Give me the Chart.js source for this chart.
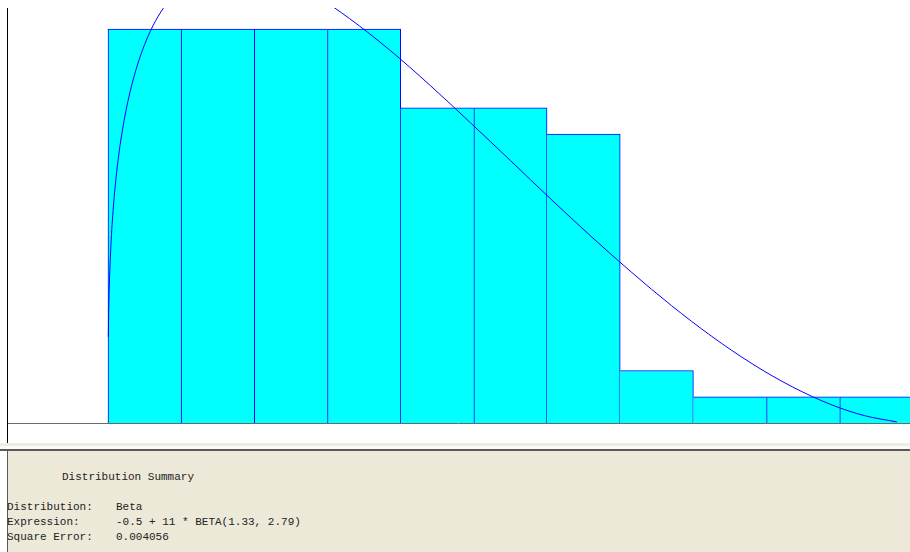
<!DOCTYPE html>
<html>
<head>
<meta charset="utf-8">
<title>Distribution Summary</title>
<script src="https://cdn.jsdelivr.net/npm/chart.js@4.4.1/dist/chart.umd.min.js"></script>
<style>
  html, body { margin: 0; padding: 0; background: #ffffff; }
  #page { position: relative; width: 910px; height: 552px; overflow: hidden; background: #ffffff; }
  #plot { position: absolute; left: 0; top: 0; width: 910px; height: 443px; }
  .strip { position: absolute; left: 0; width: 910px; }
  #panel { position: absolute; left: 7px; top: 451px; width: 903px; height: 101px;
           background: #ECE9D8; border-left: 1px solid #5a5a5a; box-sizing: border-box; }
  .txt { position: absolute; font-family: "Liberation Mono", "DejaVu Sans Mono", monospace;
         font-size: 11px; line-height: 15px; color: #222; white-space: pre; }
</style>
</head>
<body>
<div id="page">
  <div id="plot"><canvas id="c" width="910" height="443"></canvas></div>
  <div class="strip" style="top:443px;height:3px;background:#EFEDE2"></div>
  <div class="strip" style="top:446px;height:3px;background:#FBFBF8"></div>
  <div class="strip" style="top:449px;height:2px;background:#5a5a5a"></div>
  <div id="panel"></div>
  <div class="txt" style="left:62px;top:470px">Distribution Summary</div>
  <div class="txt" style="left:7px;top:500px">Distribution:</div>
  <div class="txt" style="left:116px;top:500px">Beta</div>
  <div class="txt" style="left:7px;top:515px">Expression:</div>
  <div class="txt" style="left:116px;top:515px">-0.5 + 11 * BETA(1.33, 2.79)</div>
  <div class="txt" style="left:7px;top:530px">Square Error:</div>
  <div class="txt" style="left:116px;top:530px">0.004056</div>
</div>
<script>
// Histogram bins (centres) and relative frequency of each bin
const binCenters = [0, 1, 2, 3, 4, 5, 6, 7, 8, 9, 10];
const relFreq    = [0.15, 0.15, 0.15, 0.15, 0.12, 0.12, 0.11, 0.02, 0.01, 0.01, 0.01];

// Fitted Beta density, scaled to bin width (x, relative frequency)
const curveX = [-0.4956, -0.489, -0.478, -0.456, -0.423, -0.368, -0.280, -0.148, 0.050, 0.325,
                0.600, 1.216, 1.810, 2.360, 2.800, 3.350, 3.900, 4.450, 5.000, 5.550,
                6.100, 6.650, 7.200, 7.750, 8.300, 8.850, 9.400, 9.840, 10.280];
const curveY = [0.0328, 0.0443, 0.0556, 0.0697, 0.0834, 0.0987, 0.1151, 0.1315, 0.1474, 0.1606,
                0.1681, 0.1735, 0.1701, 0.1623, 0.1540, 0.1420, 0.1286, 0.1144, 0.0999, 0.0853,
                0.0711, 0.0575, 0.0447, 0.0330, 0.0226, 0.0138, 0.0068, 0.0028, 0.0004];

// Visible window of the plot
const xMin = -1.88, xMax = 10.46;
const yMin = 0, yMax = 0.158;

const barData = binCenters.map((x, i) => ({ x: x, y: relFreq[i] }));
const curveData = curveX.map((x, i) => ({ x: x, y: curveY[i] }));

// Outline each bar once: shared edges are drawn by only one neighbour
function barBorder(ctx) {
  const i = ctx.dataIndex;
  const cur = relFreq[i];
  const prev = relFreq[i - 1];
  const next = relFreq[i + 1];
  return {
    top: 1,
    bottom: 0,
    left: (prev === undefined || prev <= cur) ? 1 : 0,
    right: (next === undefined || next < cur) ? 1 : 0
  };
}

// Axis frame: vertical axis line and horizontal base line
const framePlugin = {
  id: 'frame',
  afterDraw(chart) {
    const c = chart.ctx;
    const a = chart.chartArea;
    c.save();
    c.lineWidth = 1;
    c.strokeStyle = '#6a6a6a';
    c.beginPath();
    c.moveTo(a.left, Math.round(a.bottom) + 0.5);
    c.lineTo(chart.width, Math.round(a.bottom) + 0.5);
    c.stroke();
    c.strokeStyle = '#000000';
    c.beginPath();
    c.moveTo(Math.round(a.left) + 0.5, a.top);
    c.lineTo(Math.round(a.left) + 0.5, chart.height);
    c.stroke();
    c.restore();
  }
};

new Chart(document.getElementById('c'), {
  data: {
    datasets: [
      {
        type: 'line',
        data: curveData,
        borderColor: '#0000ff',
        backgroundColor: '#0000ff',
        borderWidth: 1,
        pointRadius: 0,
        fill: false,
        cubicInterpolationMode: 'monotone',
        order: 0
      },
      {
        type: 'bar',
        data: barData,
        backgroundColor: '#00ffff',
        borderColor: '#0000ff',
        borderWidth: barBorder,
        borderSkipped: false,
        barPercentage: 1.0,
        categoryPercentage: 1.0,
        order: 1
      }
    ]
  },
  options: {
    responsive: false,
    devicePixelRatio: 1,
    animation: false,
    layout: { padding: { left: 7, top: 8, right: 0, bottom: 20 } },
    plugins: { legend: { display: false }, tooltip: { enabled: false } },
    scales: {
      x: { type: 'linear', min: xMin, max: xMax, offset: false, display: false },
      y: { type: 'linear', min: yMin, max: yMax, display: false }
    }
  },
  plugins: [framePlugin]
});
</script>
</body>
</html>
